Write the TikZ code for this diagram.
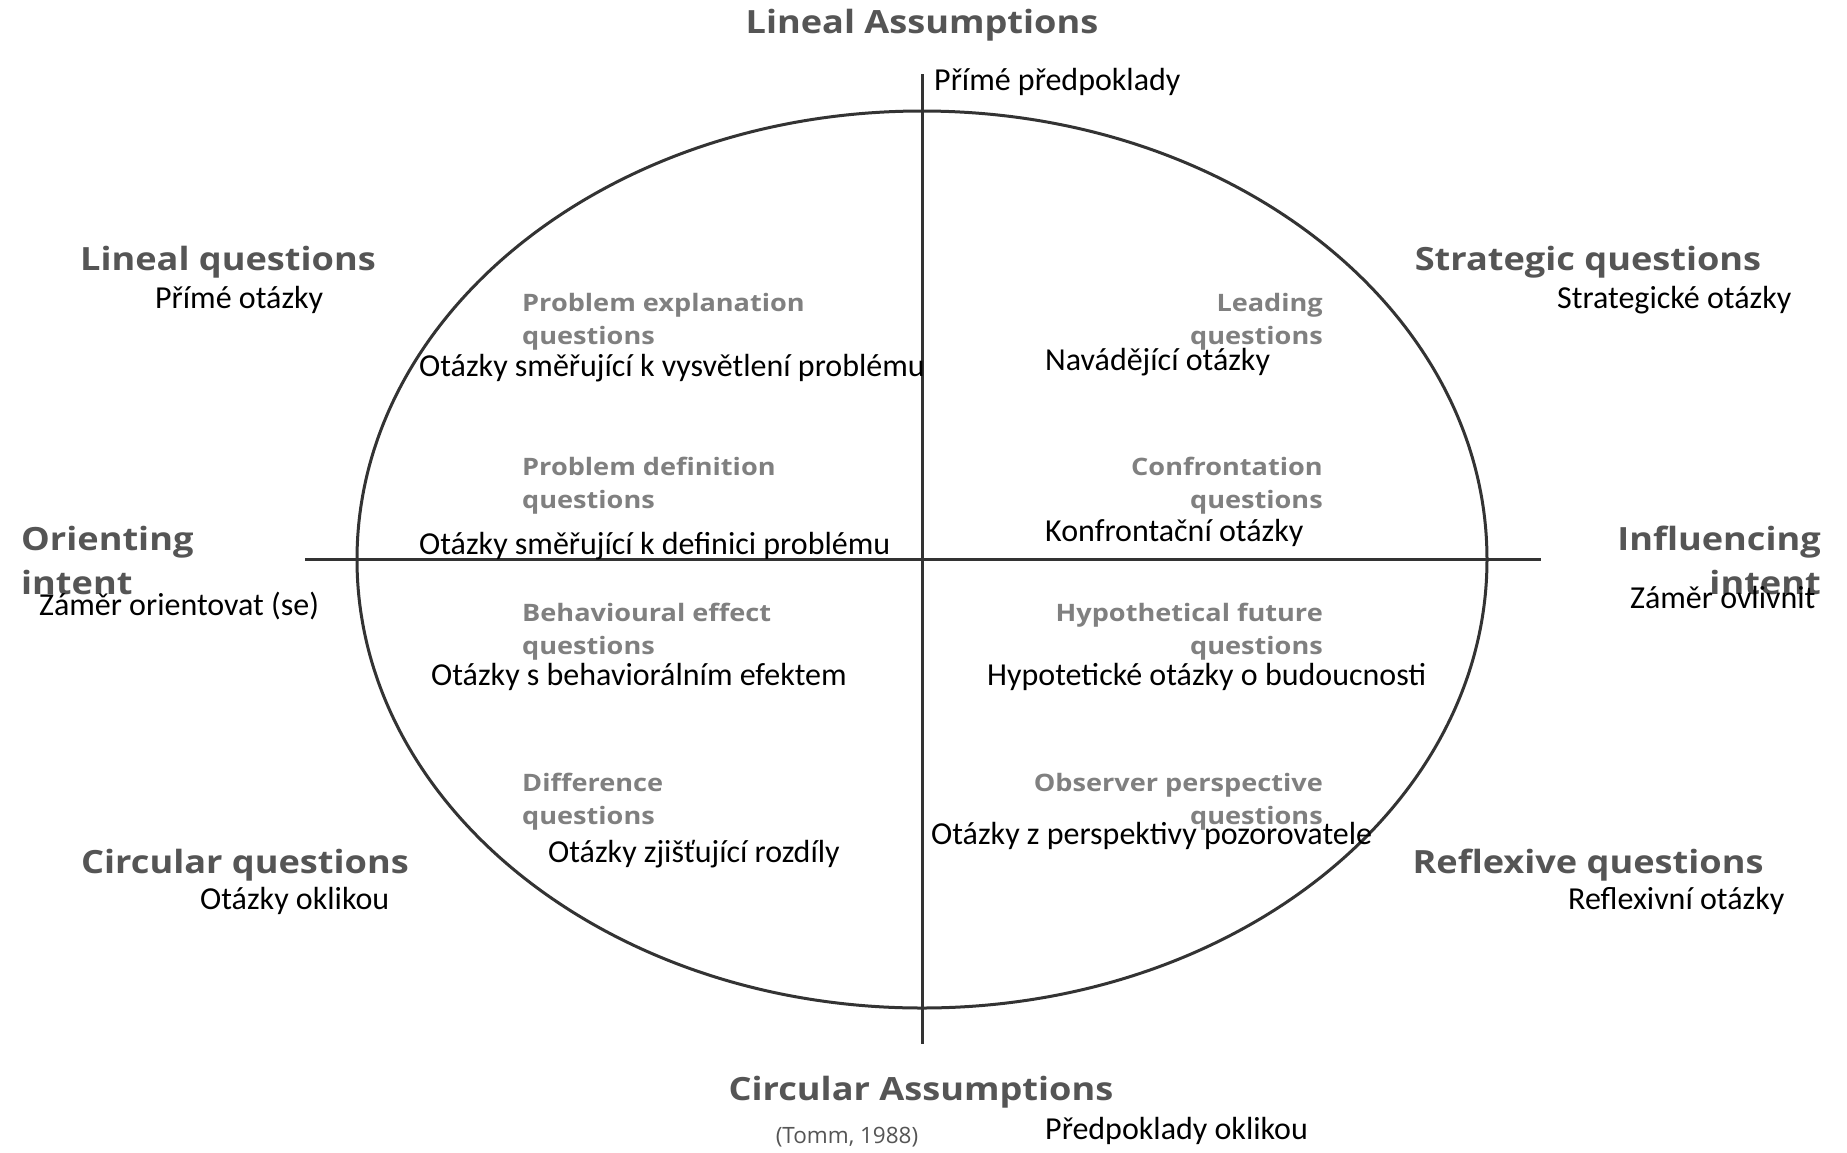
\documentclass[tikz,border=0pt]{standalone}
\usepackage{fontspec}
\setmainfont{Carlito}
\newfontfamily\engfont[FakeStretch=1.13]{Open Sans}
\newfontfamily\citefont{Open Sans}
\usetikzlibrary{shapes.geometric}
\definecolor{lineclr}{HTML}{333333}
\definecolor{headclr}{HTML}{555555}
\definecolor{subclr}{HTML}{808080}
\begin{document}
\begin{tikzpicture}[x=1pt,y=-1pt,
  cz/.style={inner sep=0pt, text=black, font=\fontsize{32}{38}\selectfont, text height=0.75em, text depth=0.25em},
  head/.style={inner sep=0pt, text=headclr, font=\engfont\bfseries\fontsize{32}{44}\selectfont},
  sub/.style={inner sep=0pt, text=subclr, font=\engfont\bfseries\fontsize{24}{33}\selectfont},
  cite/.style={inner sep=0pt, text=headclr, font=\citefont\fontsize{22.5}{30}\selectfont},
  axis/.style={draw=lineclr, line width=3pt}]
\useasboundingbox[fill=white] (0,0) rectangle (1847,1152);
% axes and ellipse
\coordinate (vt) at (922,74);
\coordinate (vb) at (922,1044);
\coordinate (hl) at (305,559);
\coordinate (hr) at (1541,559);
\node[axis, ellipse, inner sep=0pt, minimum width=1130pt, minimum height=897pt] (ell) at (922,559.5) {};
\draw[axis] (vt) -- (vb);
\draw[axis] (hl) -- (hr);
% labels
\node[head] (la) at (922,25) {Lineal Assumptions};
\node[cz, anchor=west] (lacz) at (934,88) {Přímé předpoklady};
\node[head] (lq) at (228,262) {Lineal questions};
\node[cz, anchor=west] (lqcz) at (155,306) {Přímé otázky};
\node[head] (sq) at (1588,262) {Strategic questions};
\node[cz, anchor=west] (sqcz) at (1557,306) {Strategické otázky};
\node[sub, anchor=west, align=left] (pe) at (522,322) {Problem explanation\\questions};
\node[cz, anchor=west] (pecz) at (419,374) {Otázky směřující k vysvětlení problému};
\node[sub, anchor=east, align=right] (lead) at (1323,322) {Leading\\questions};
\node[cz, anchor=west] (leadcz) at (1045,368) {Navádějící otázky};
\node[sub, anchor=west, align=left] (pd) at (522,486) {Problem definition\\questions};
\node[cz, anchor=west] (pdcz) at (419,552) {Otázky směřující k definici problému};
\node[sub, anchor=east, align=right] (conf) at (1323,486) {Confrontation\\questions};
\node[cz, anchor=west] (confcz) at (1045,539) {Konfrontační otázky};
\node[head, anchor=west, align=left] (oi) at (21,560) {Orienting\\intent};
\node[cz, anchor=west] (oicz) at (39,613) {Záměr orientovat (se)};
\node[head, anchor=east, align=right] (ii) at (1821,560) {Influencing\\intent};
\node[cz, anchor=west] (iicz) at (1630,606) {Záměr ovlivnit};
\node[sub, anchor=west, align=left] (be) at (522,632) {Behavioural effect\\questions};
\node[cz, anchor=west] (becz) at (431,683) {Otázky s behaviorálním efektem};
\node[sub, anchor=east, align=right] (hf) at (1323,632) {Hypothetical future\\questions};
\node[cz, anchor=west] (hfcz) at (987,683) {Hypotetické otázky o budoucnosti};
\node[sub, anchor=west, align=left] (dq) at (522,802) {Difference\\questions};
\node[cz, anchor=west] (dqcz) at (548,860) {Otázky zjišťující rozdíly};
\node[sub, anchor=east, align=right] (op) at (1323,802) {Observer perspective\\questions};
\node[cz, anchor=west] (opcz) at (931,842) {Otázky z perspektivy pozorovatele};
\node[head] (cq) at (245,865) {Circular questions};
\node[cz, anchor=west] (cqcz) at (200,907) {Otázky oklikou};
\node[head] (rq) at (1588,865) {Reflexive questions};
\node[cz, anchor=west] (rqcz) at (1568,907) {Reflexivní otázky};
\node[head] (ca) at (921,1092) {Circular Assumptions};
\node[cite] (tomm) at (847,1137) {(Tomm, 1988)};
\node[cz, anchor=west] (cacz) at (1045,1137) {Předpoklady oklikou};
\end{tikzpicture}
\end{document}
